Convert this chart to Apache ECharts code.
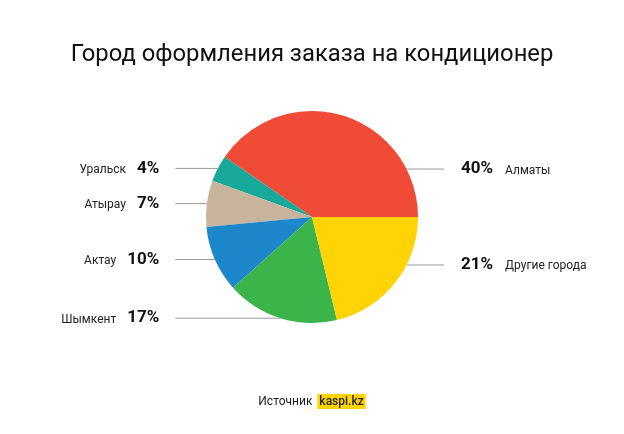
<!DOCTYPE html>
<html><head><meta charset="utf-8">
<script src="https://cdn.jsdelivr.net/npm/echarts@6/dist/echarts.min.js"></script>
<style>html,body{margin:0;padding:0;background:#fff}#c{width:624px;height:434px}</style>
</head><body><div id="c"></div>
<script>
const titleText = 'Город оформления заказа на кондиционер';
const cities = ['Алматы', 'Уральск', 'Атырау', 'Актау', 'Шымкент', 'Другие города'];
const shares = [40, 4, 7, 10, 17, 21];
const colors = ['#EF4B37', '#18A99B', '#C8B39C', '#1C88CB', '#3BB54A', '#FFD304'];
const sourceLabel = 'Источник';
const sourceName = 'kaspi.kz';

const FONT = 'Roboto';
const chart = echarts.init(document.getElementById('c'), null, { renderer: 'canvas' });
const W = chart.getWidth(), H = chart.getHeight();
const CX = W * 0.5, CY = H * 0.5, R = 106;
const total = shares.reduce((a, b) => a + b, 0);
function midAngle(i) {
  let c = 0;
  for (let k = 0; k < i; k++) c += shares[k];
  return (c + shares[i] / 2) / total * 2 * Math.PI;
}
function isLeft(i) { return Math.cos(midAngle(i)) < 0; }
const rightIdx = shares.map((_, i) => i).filter(i => !isLeft(i));

const pieData = cities.map((n, i) => ({ name: n, value: shares[i], itemStyle: { color: colors[i] } }));

chart.setOption({
  animation: false,
  backgroundColor: '#fff',
  title: [
    { text: titleText, left: 'center', top: 38,
      textStyle: { fontFamily: FONT, fontSize: 23.8, fontWeight: 'normal', color: '#111' } },
    { text: '{a|' + sourceLabel + '}{b|' + sourceName + '}', left: 'center', top: 389,
      textStyle: { fontWeight: 'normal', rich: {
        a: { fontFamily: FONT, fontSize: 12, fontWeight: 'normal', color: '#222', padding: [0, 5, 0, 0] },
        b: { fontFamily: FONT, fontSize: 12, fontWeight: 500, color: '#222', backgroundColor: '#FFD400', padding: [2, 2, 1, 2] }
      } } }
  ],
  graphic: [
    { type: 'line', shape: { x1: 320, y1: 402.5, x2: 360, y2: 402.5 }, style: { stroke: '#333', lineWidth: 1 }, silent: true }
  ],
  series: [{
    type: 'pie',
    center: ['50%', '50%'],
    radius: R,
    startAngle: 0,
    clockwise: false,
    avoidLabelOverlap: false,
    data: pieData,
    label: {
      show: true,
      position: 'outside',
      formatter: p => isLeft(p.dataIndex)
        ? '{n|' + p.name + '}{p|' + p.value + '%}'
        : '{p|' + p.value + '%}{m|' + p.name + '}',
      rich: {
        n: { fontFamily: FONT, fontSize: 12, color: '#222', padding: [3, 11, 0, 0] },
        m: { fontFamily: FONT, fontSize: 12, color: '#222', padding: [3, 0, 0, 12] },
        p: { fontFamily: FONT, fontSize: 17, fontWeight: 'bold', color: '#111' }
      }
    },
    labelLine: { show: true, length: 0, length2: 10, smooth: false, lineStyle: { color: '#9b9b9b', width: 1 } },
    labelLayout: function (params) {
      const i = params.dataIndex;
      if (isLeft(i)) {
        const a = midAngle(i);
        const sx = CX + R * Math.cos(a);
        const y = CY - R * Math.sin(a);
        const ex = CX - 1.29 * R;
        return { x: ex - 16, y: y, align: 'right', verticalAlign: 'middle',
          labelLinePoints: [[sx, y], [sx, y], [ex, y]] };
      } else {
        const k = rightIdx.indexOf(i);
        const y = CY + (k - (rightIdx.length - 1) / 2) * 0.905 * R;
        const sx = CX + Math.sqrt(R * R - (y - CY) * (y - CY));
        const ex = CX + 1.245 * R;
        return { x: ex + 17, y: y, align: 'left', verticalAlign: 'middle',
          labelLinePoints: [[sx, y], [sx, y], [ex, y]] };
      }
    }
  }]
});
</script></body></html>
